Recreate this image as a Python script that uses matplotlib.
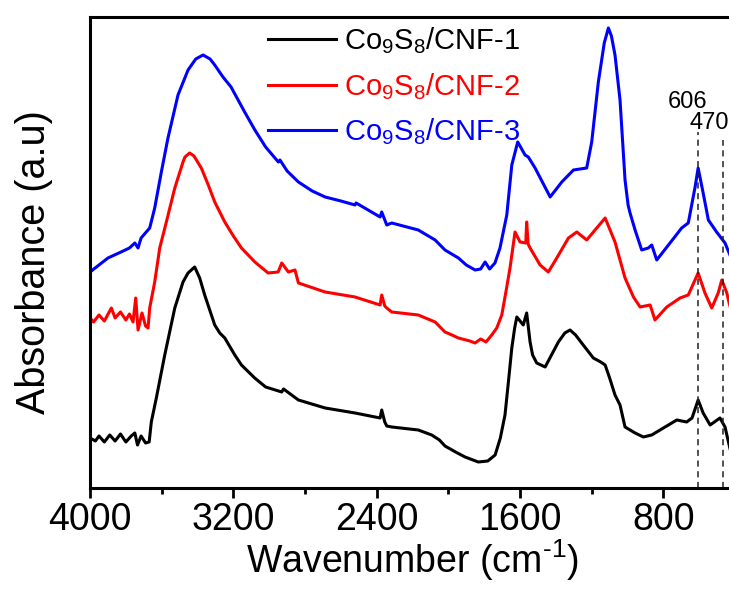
import matplotlib
matplotlib.use("Agg")
from matplotlib import pyplot as plt

plt.rcParams['font.family'] = ['Liberation Sans', 'DejaVu Sans']
plt.rcParams['mathtext.fontset'] = 'custom'
plt.rcParams['mathtext.rm'] = 'Liberation Sans'
plt.rcParams['mathtext.it'] = 'Liberation Sans:italic'

# wavenumber (cm-1) / absorbance (a.u.)
wn_1 = [4000, 3970, 3950, 3920, 3890, 3860, 3830, 3800, 3770, 3750, 3735, 3715, 3690, 3670,
        3658, 3630, 3583, 3527, 3481, 3453, 3416, 3388, 3360, 3304, 3276, 3248, 3192, 3155,
        3081, 3020, 2930, 2920, 2837, 2688, 2521, 2381, 2372, 2355, 2344, 2316, 2168, 2093,
        2050, 2019, 1960, 1907, 1833, 1780, 1739, 1710, 1684, 1665, 1646, 1630, 1618, 1582,
        1563, 1544, 1530, 1507, 1460, 1386, 1350, 1321, 1290, 1256, 1191, 1150, 1125, 1100,
        1070, 1042, 1014, 958, 912, 865, 800, 725, 670, 640, 606, 578, 539, 484, 456, 433, 400]
abs_1 = [0.50, 0.47, 0.52, 0.46, 0.53, 0.47, 0.54, 0.46, 0.52, 0.55, 0.43, 0.52, 0.45, 0.46,
         0.66, 0.90, 1.33, 1.80, 2.06, 2.15, 2.21, 2.10, 1.93, 1.63, 1.55, 1.50, 1.33, 1.23,
         1.10, 1.01, 0.96, 0.99, 0.88, 0.80, 0.75, 0.70, 0.78, 0.66, 0.62, 0.61, 0.58, 0.53,
         0.48, 0.42, 0.36, 0.31, 0.26, 0.27, 0.33, 0.50, 0.73, 1.06, 1.40, 1.60, 1.71, 1.63,
         1.75, 1.46, 1.33, 1.25, 1.21, 1.46, 1.55, 1.58, 1.53, 1.45, 1.30, 1.26, 1.23, 1.10,
         0.93, 0.83, 0.61, 0.55, 0.51, 0.53, 0.60, 0.68, 0.66, 0.70, 0.88, 0.75, 0.63, 0.70,
         0.61, 0.43, 0.18]

wn_2 = [4000, 3980, 3950, 3920, 3881, 3860, 3830, 3800, 3780, 3760, 3745, 3732, 3710, 3690,
        3676, 3667, 3639, 3611, 3574, 3527, 3481, 3470, 3444, 3420, 3379, 3340, 3304, 3248,
        3200, 3155, 3080, 3006, 2950, 2930, 2893, 2856, 2837, 2688, 2521, 2381, 2372, 2355,
        2344, 2316, 2168, 2074, 2019, 1980, 1944, 1880, 1851, 1820, 1790, 1758, 1730, 1702,
        1680, 1656, 1628, 1600, 1568, 1563, 1555, 1544, 1488, 1442, 1395, 1330, 1283, 1228,
        1172, 1125, 1070, 1014, 967, 930, 874, 847, 781, 707, 661, 606, 568, 530, 494, 474,
        446, 433, 400]
abs_2 = [1.70, 1.66, 1.73, 1.67, 1.80, 1.70, 1.76, 1.68, 1.74, 1.66, 1.90, 1.58, 1.75, 1.62,
         1.60, 1.80, 2.06, 2.40, 2.66, 3.00, 3.26, 3.31, 3.35, 3.32, 3.20, 3.03, 2.86, 2.66,
         2.52, 2.40, 2.26, 2.15, 2.16, 2.25, 2.16, 2.18, 2.05, 1.96, 1.91, 1.83, 1.93, 1.82,
         1.80, 1.76, 1.73, 1.66, 1.56, 1.53, 1.50, 1.47, 1.45, 1.49, 1.46, 1.53, 1.60, 1.73,
         1.95, 2.20, 2.56, 2.46, 2.45, 2.66, 2.44, 2.40, 2.23, 2.16, 2.30, 2.50, 2.56, 2.48,
         2.60, 2.70, 2.46, 2.10, 1.91, 1.81, 1.83, 1.68, 1.81, 1.90, 1.93, 2.15, 1.95, 1.80,
         1.95, 2.08, 1.95, 1.85, 1.63]

wn_3 = [4000, 3900, 3827, 3780, 3750, 3732, 3715, 3667, 3639, 3602, 3565, 3509, 3453, 3410,
        3369, 3330, 3304, 3258, 3213, 3137, 3080, 3020, 2949, 2940, 2900, 2837, 2760, 2688,
        2600, 2521, 2515, 2381, 2372, 2344, 2316, 2168, 2074, 2019, 1944, 1900, 1851, 1820,
        1795, 1770, 1740, 1712, 1674, 1646, 1613, 1572, 1554, 1516, 1432, 1367, 1302, 1228,
        1200, 1163, 1130, 1107, 1090, 1070, 1042, 1014, 997, 986, 958, 921, 884, 865, 837,
        763, 698, 661, 623, 606, 578, 549, 503, 456, 433, 400]
abs_3 = [2.16, 2.30, 2.36, 2.40, 2.45, 2.40, 2.50, 2.60, 2.80, 3.16, 3.50, 3.93, 4.18, 4.29,
         4.33, 4.29, 4.23, 4.11, 4.01, 3.76, 3.58, 3.41, 3.26, 3.28, 3.17, 3.06, 2.97, 2.91,
         2.87, 2.83, 2.85, 2.71, 2.76, 2.63, 2.65, 2.58, 2.48, 2.38, 2.30, 2.23, 2.18, 2.19,
         2.26, 2.19, 2.25, 2.40, 2.73, 3.23, 3.46, 3.33, 3.31, 3.20, 2.91, 3.06, 3.18, 3.20,
         3.46, 4.06, 4.45, 4.60, 4.52, 4.33, 3.88, 3.08, 2.83, 2.75, 2.58, 2.38, 2.40, 2.43,
         2.28, 2.45, 2.60, 2.65, 3.01, 3.20, 2.95, 2.68, 2.56, 2.45, 2.35, 2.20]

labels = [r'Co$_\mathrm{9}$S$_\mathrm{8}$/CNF-1',
          r'Co$_\mathrm{9}$S$_\mathrm{8}$/CNF-2',
          r'Co$_\mathrm{9}$S$_\mathrm{8}$/CNF-3']
colors = ['black', '#ff0000', '#0000ff']

marks = [606, 470]
mark_tops = [3.56, 3.48]

fig = plt.figure(figsize=(7.29, 5.90), dpi=100)
ax = fig.add_axes([0.1235, 0.1729, 0.8848, 0.7983])

for wn, ab, lab, c in zip([wn_1, wn_2, wn_3], [abs_1, abs_2, abs_3], labels, colors):
    ax.plot(wn, ab, color=c, lw=2.2, label=lab)

for m, top in zip(marks, mark_tops):
    ax.vlines(m, 0, top, colors='#222222', linestyles=(0, (4, 3)), lw=1.1)
ax.text(774, 3.855, '606', fontsize=17, ha='left', va='center')
ax.text(656, 3.645, '470', fontsize=17, ha='left', va='center')

ax.set_xlim(4000, 400)
ax.set_ylim(0, 4.71)
ax.set_xticks([4000, 3200, 2400, 1600, 800])
ax.set_xticks([3600, 2800, 2000, 1200, 400], minor=True)
ax.set_yticks([])
ax.tick_params(axis='x', which='major', direction='out', length=7, width=2, labelsize=27, pad=3)
ax.tick_params(axis='x', which='minor', direction='out', length=4, width=2)
for s in ax.spines.values():
    s.set_linewidth(2.2)

ax.set_xlabel(r'Wavenumber (cm$^{\text{-}\mathrm{1}}$)', fontsize=27, labelpad=0)
ax.set_ylabel('Absorbance (a.u)', fontsize=28.5)
ax.yaxis.set_label_coords(-0.058, 0.48)

leg = ax.legend(loc='upper left', bbox_to_anchor=(0.245, 1.025), frameon=False, fontsize=21,
                handlelength=2.3, handletextpad=0.3, labelspacing=0.5, borderpad=0.2)
for t, c in zip(leg.get_texts(), colors):
    t.set_color(c)

fig.savefig('out.png', dpi=100)
